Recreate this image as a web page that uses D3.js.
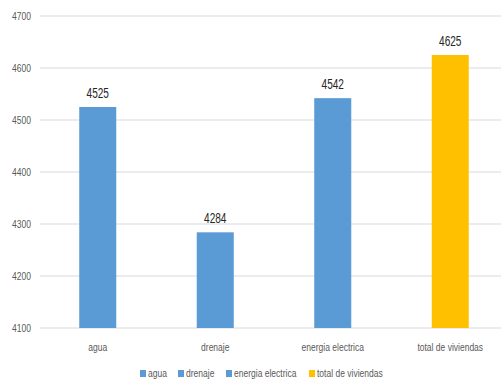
<!DOCTYPE html>
<html>
<head>
<meta charset="utf-8">
<script src="https://cdn.jsdelivr.net/npm/d3@7"></script>
<style>
  html, body { margin: 0; padding: 0; background: #fff; }
  svg { display: block; font-family: "Liberation Sans", Arial, sans-serif; }
</style>
</head>
<body>
<svg id="chart" width="501" height="384"></svg>
<script>
// Servicios en las viviendas
const categories = ["agua", "drenaje", "energia electrica", "total de viviendas"];
const values = [4525, 4284, 4542, 4625];
const colors = ["#5b9bd5", "#5b9bd5", "#5b9bd5", "#ffc000"];
const yTicks = [4100, 4200, 4300, 4400, 4500, 4600, 4700];

const svg = d3.select("#chart");
const W = 501;
// condensed look for all text
const narrow = "scale(0.74,1)";

const x = d3.scaleBand().domain(categories).range([39, 509]).paddingInner(0.685).paddingOuter(0.3425);
const y = d3.scaleLinear().domain([4100, 4700]).range([328, 16]);

// horizontal gridlines
svg.append("g").selectAll("line").data(yTicks).join("line")
  .attr("x1", 40).attr("x2", W)
  .attr("y1", d => y(d)).attr("y2", d => y(d))
  .attr("stroke", "#d9d9d9").attr("stroke-width", 1);

// y axis labels
const yAxis = d3.axisLeft(y).tickValues(yTicks).tickSize(0).tickPadding(0).tickFormat(d3.format("d"));
const gy = svg.append("g").attr("transform", "translate(31,0)").call(yAxis);
gy.select(".domain").remove();
gy.selectAll("text").attr("fill", "#595959").attr("font-size", 11.5).attr("font-family", null)
  .attr("transform", narrow);

// bars
svg.append("g").selectAll("rect").data(values).join("rect")
  .attr("x", (d, i) => x(categories[i]))
  .attr("y", d => y(d))
  .attr("width", x.bandwidth())
  .attr("height", d => y(4100) - y(d))
  .attr("fill", (d, i) => colors[i]);

// value labels
svg.append("g").selectAll("g").data(values).join("g")
  .attr("transform", (d, i) => `translate(${x(categories[i]) + x.bandwidth() / 2},${y(d) - 9})`)
  .append("text")
  .attr("text-anchor", "middle")
  .attr("transform", "scale(0.72,1)")
  .attr("font-size", 14)
  .attr("fill", "#262626")
  .text(d => d);

// x axis labels
const xAxis = d3.axisBottom(x).tickSize(0).tickPadding(0);
const gx = svg.append("g").attr("transform", "translate(0,343)").call(xAxis);
gx.select(".domain").remove();
gx.selectAll("text").attr("fill", "#595959").attr("font-size", 11.5).attr("font-family", null)
  .attr("transform", narrow);

// legend
const legendX = [140, 178, 226, 309];
const lg = svg.append("g").selectAll("g").data(categories).join("g")
  .attr("transform", (d, i) => `translate(${legendX[i]},370)`);
lg.append("rect").attr("width", 6).attr("height", 7).attr("fill", (d, i) => colors[i]);
lg.append("g").attr("transform", "translate(8,7)")
  .append("text").attr("transform", narrow)
  .attr("font-size", 11.5).attr("fill", "#595959").text(d => d);
</script>
</body>
</html>
